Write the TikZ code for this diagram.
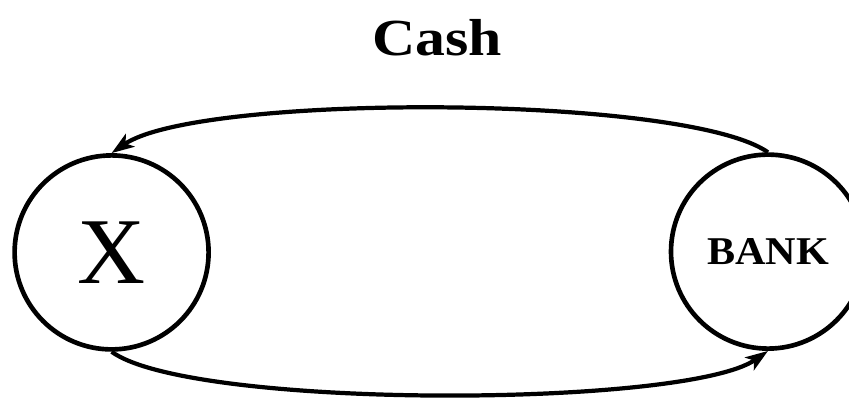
\documentclass[tikz,border=0pt]{standalone}
\usepackage{fontspec}
\setmainfont{Liberation Serif}
\newfontfamily\widefont[FakeStretch=1.15]{Liberation Serif}
\newfontfamily\bankfont[FakeStretch=1.07]{Liberation Serif}
\usetikzlibrary{arrows.meta}
\begin{document}
\begin{tikzpicture}[
    % Styles
    party/.style={
      circle,
      draw=black,
      line width=3.3pt,
      minimum size=4.85cm,
      inner sep=0pt,
    },
    flow/.style={
      -{Stealth[length=16pt,width=11pt,inset=4pt]},
      line width=3pt,
    }]
  \useasboundingbox (0,0) rectangle (21.225,-9.95);
  \node[anchor=base, font=\widefont\fontsize{37}{40}\selectfont\bfseries] (cash) at (10.925,-1.375) {Cash};
  \node[party, font=\fontsize{67}{70}\selectfont] (x) at (2.79,-6.31) {X};
  \node[party, font=\bankfont\fontsize{28}{30}\selectfont\bfseries] (bank) at (19.2,-6.29) {BANK};
  \draw[flow] (bank.north) .. controls +(-2.075,1.45) and +(2.175,1.5) .. (x.north);
  \draw[flow] (x.south) .. controls +(2.0,-1.45) and +(-2.05,-1.425) .. (bank.south);
\end{tikzpicture}
\end{document}
